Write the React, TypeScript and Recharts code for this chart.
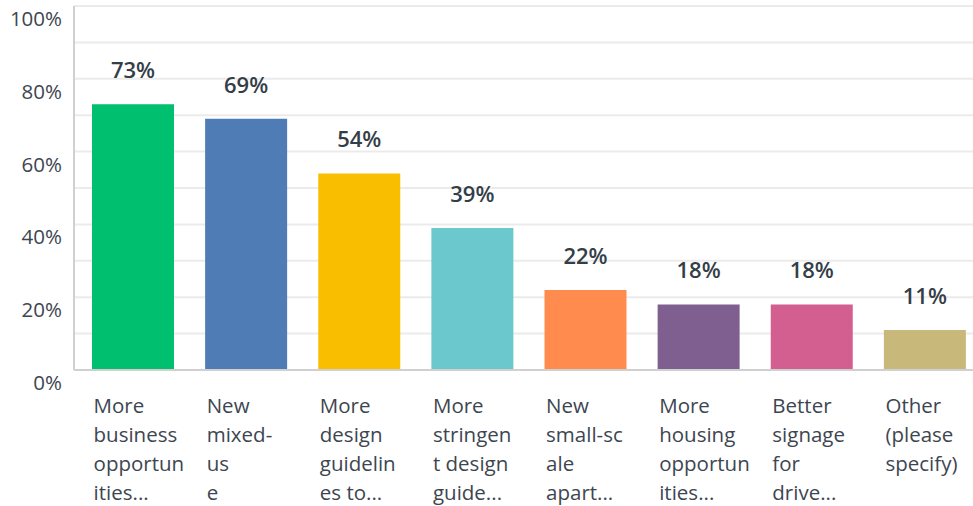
import { BarChart, Bar, XAxis, YAxis, CartesianGrid, Cell, LabelList } from "recharts";

const categories = [
  "More business opportunities",
  "New mixed-use",
  "More design guidelines to",
  "More stringent design guide",
  "New small-scale apart",
  "More housing opportunities",
  "Better signage for drive",
  "Other (please specify)",
];

// wrapped tick labels as they appear on the axis
const tickLines = [
  ["More", "business", "opportun", "ities..."],
  ["New", "mixed-", "us", "e"],
  ["More", "design", "guidelin", "es to..."],
  ["More", "stringen", "t design", "guide..."],
  ["New", "small-sc", "ale", "apart..."],
  ["More", "housing", "opportun", "ities..."],
  ["Better", "signage", "for", "drive..."],
  ["Other", "(please", "specify)"],
];

const values = [73, 69, 54, 39, 22, 18, 18, 11];

const colors = ["#00bf6f", "#507cb6", "#f9be00", "#6bc8cd", "#ff8b4f", "#7f5f90", "#d25f90", "#c8b87a"];

const yTicks = [0, 10, 20, 30, 40, 50, 60, 70, 80, 90, 100];

const data = categories.map((name, i) => ({ name, value: values[i], idx: i }));

const FONT = "'Open Sans', sans-serif";

const XTick = (props: any) => {
  const { x, y, index } = props;
  const lines = tickLines[index] || [];
  return (
    <text x={x - 39} y={y} fill="#3d4650" fontSize={20.5} fontFamily={FONT} textAnchor="start">
      {lines.map((l, i) => (
        <tspan key={i} x={x - 39} dy={i === 0 ? 35 : 29}>
          {l}
        </tspan>
      ))}
    </text>
  );
};

const YTick = (props: any) => {
  const { y, payload } = props;
  if (payload.value % 20 !== 0) return <g />;
  return (
    <text x={62} y={y + 12} fill="#3d4650" fontSize={20.5} fontFamily={FONT} textAnchor="end" dominantBaseline="central">
      {payload.value}%
    </text>
  );
};

export default function App() {
  return (
    <div style={{ position: "absolute", left: 0, top: 0, width: 973, height: 506, overflow: "hidden", background: "#fff" }}>
      <BarChart
        width={981}
        height={506}
        data={data}
        margin={{ top: 6, right: 0, bottom: 0, left: 0 }}
        barSize={82}
      >
        <CartesianGrid vertical={false} stroke="#ebebeb" strokeWidth={2} />
        <XAxis
          dataKey="name"
          axisLine={{ stroke: "#d0d0d0", strokeWidth: 2 }}
          tickLine={false}
          interval={0}
          tick={<XTick />}
          padding={{ left: 2, right: 0 }}
          height={136}
        />
        <YAxis
          width={74}
          domain={[0, 100]}
          ticks={yTicks}
          interval={0}
          axisLine={{ stroke: "#d0d0d0", strokeWidth: 2 }}
          tickLine={false}
          tick={<YTick />}
        />
        <Bar dataKey="value" isAnimationActive={false}>
          {data.map((d, i) => (
            <Cell key={i} fill={colors[i]} />
          ))}
          <LabelList
            dataKey="value"
            position="top"
            offset={26}
            formatter={(v: any) => `${v}%`}
            fill="#333e48"
            fontSize={22}
            fontWeight={600}
            fontFamily={FONT}
          />
        </Bar>
      </BarChart>
    </div>
  );
}
